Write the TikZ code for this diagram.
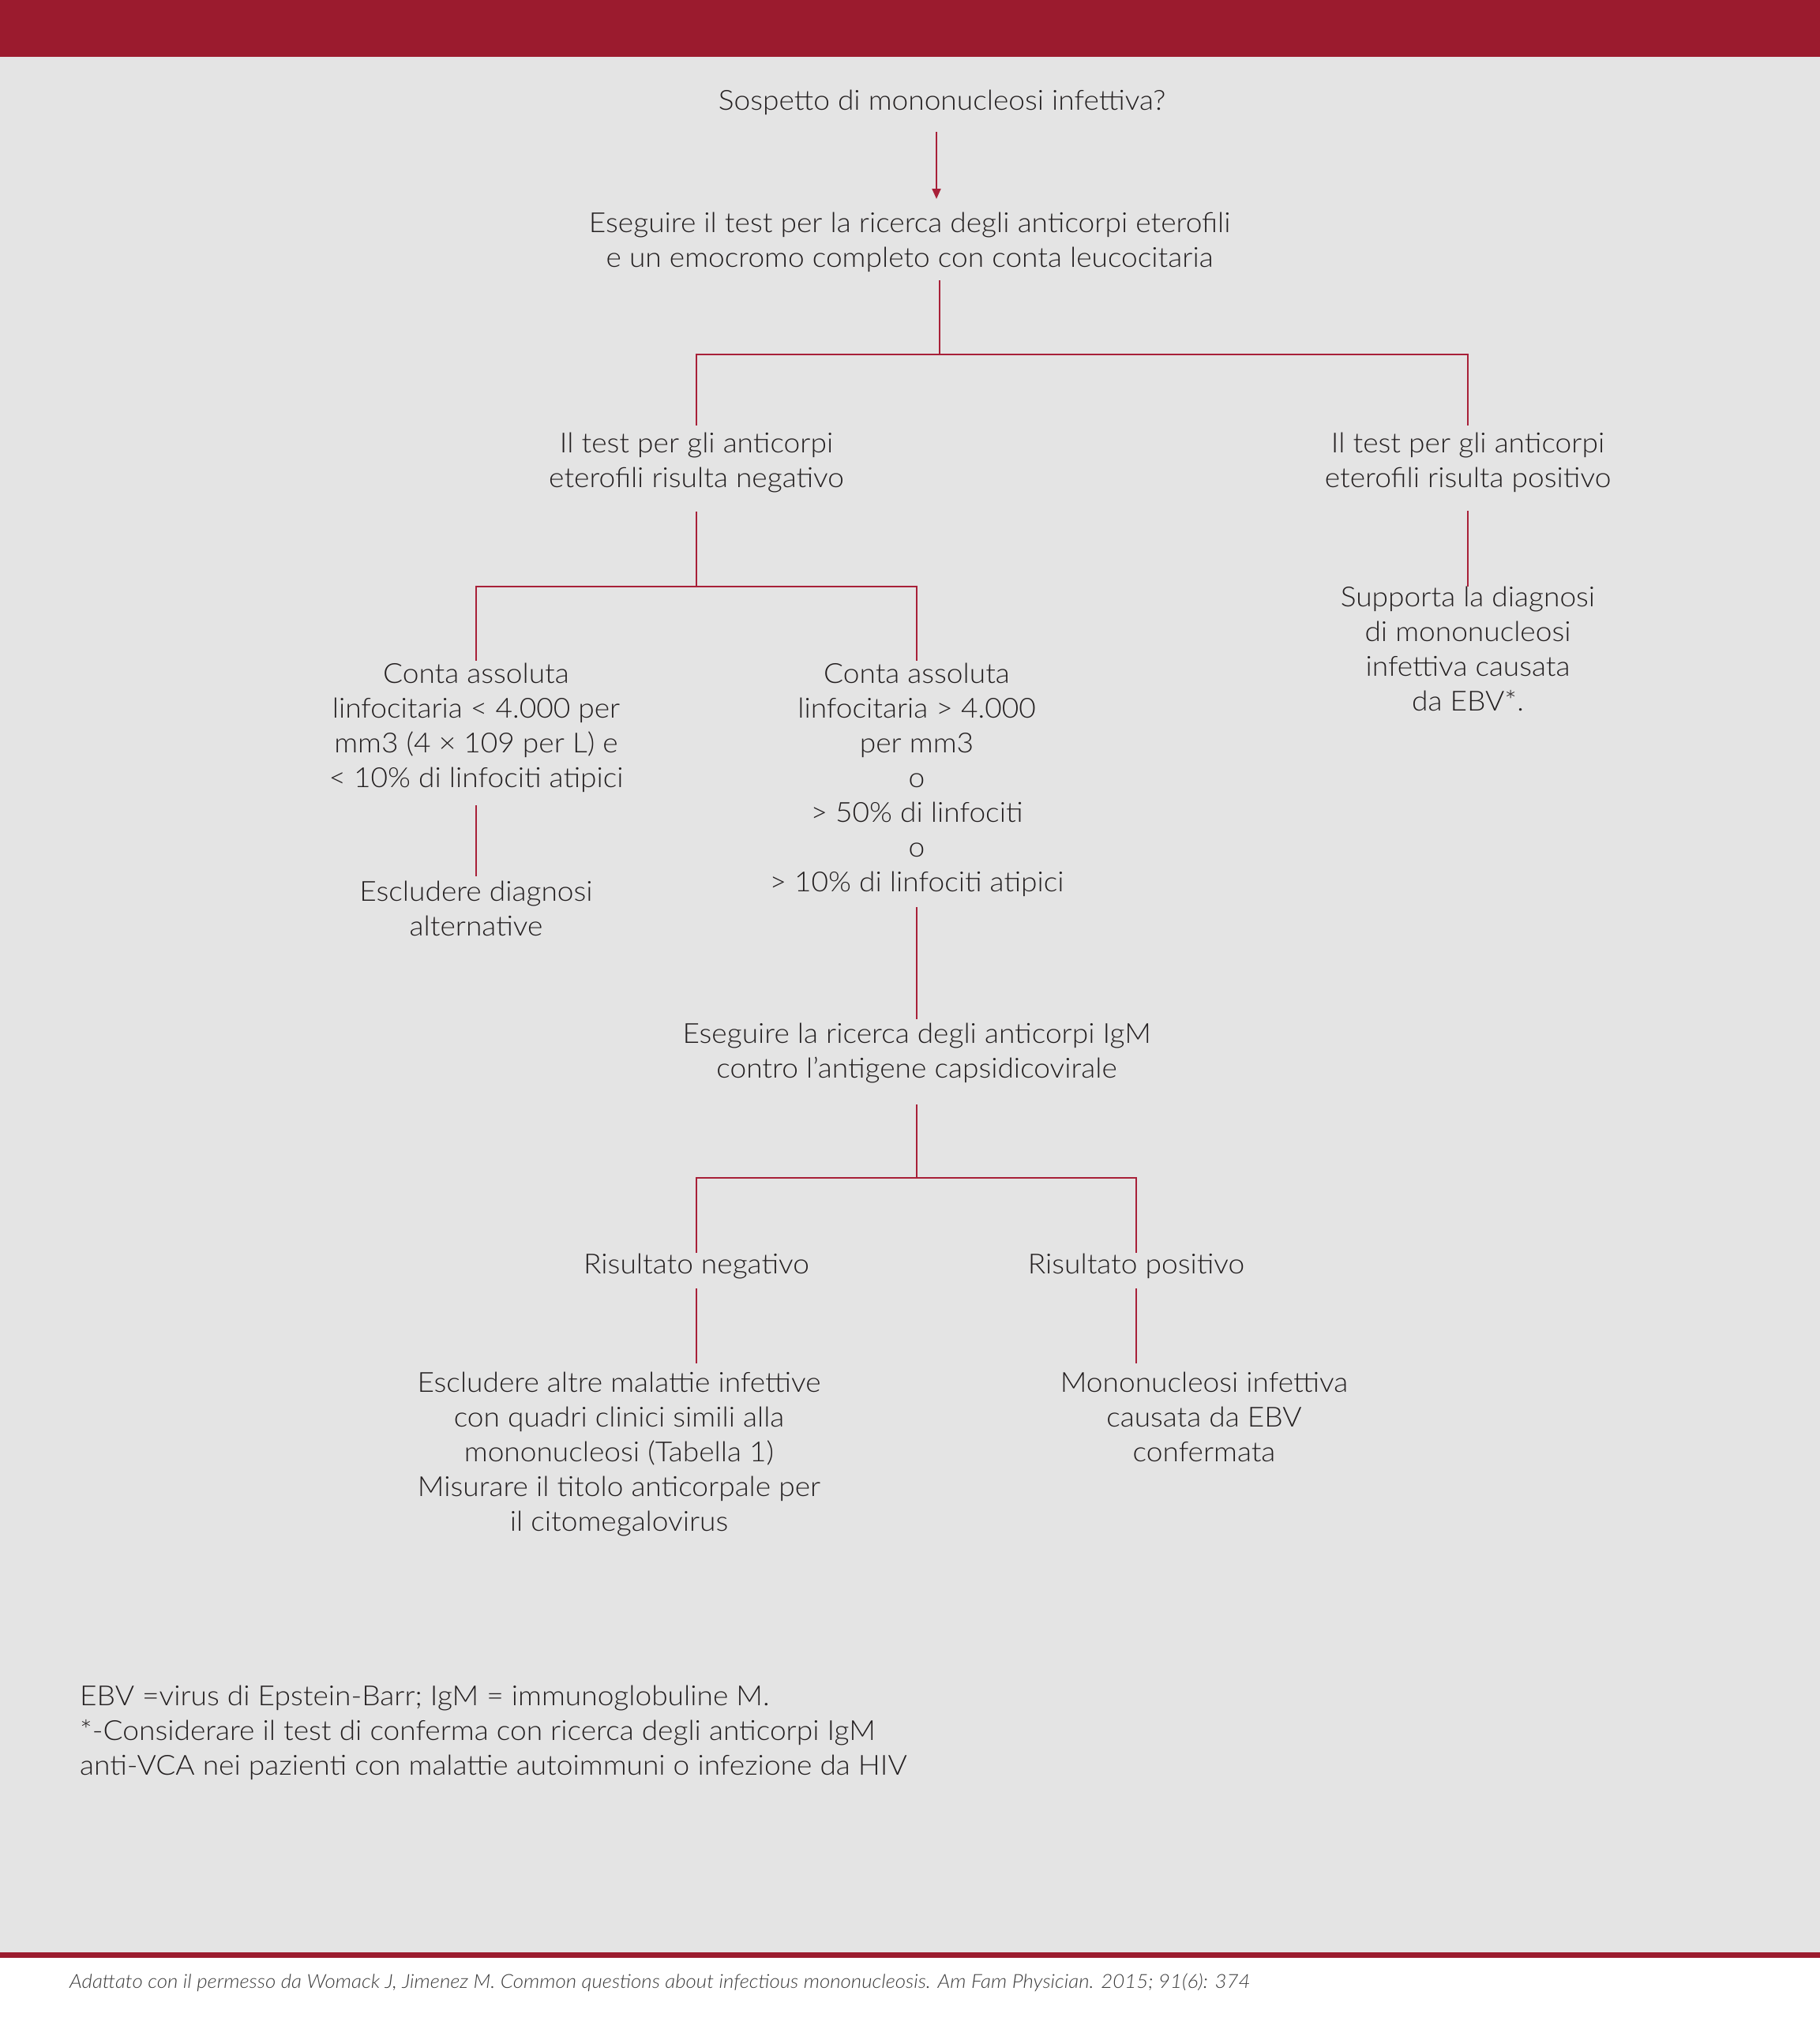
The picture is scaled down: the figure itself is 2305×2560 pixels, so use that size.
\documentclass[tikz,border=0pt]{standalone}
\usepackage{fontspec}
\IfFontExistsTF{Lato Light}{\setmainfont{Lato}[UprightFont=* Light, ItalicFont=* Light Italic, FakeStretch=1.06]}{\setmainfont{Lato}[FakeStretch=1.06]}
\usetikzlibrary{arrows.meta}
\definecolor{barred}{RGB}{155,27,46}
\definecolor{linered}{RGB}{168,32,56}
\definecolor{bggray}{RGB}{228,228,228}
\definecolor{txtcol}{RGB}{35,31,32}
\definecolor{footcol}{RGB}{60,60,60}
\tikzset{
  txt/.style={font=\fontsize{35}{44}\selectfont, text=txtcol, align=center, inner sep=0pt, anchor=north},
  conn/.style={draw=linered, line width=2pt},
}
\begin{document}
\begin{tikzpicture}[x=1pt,y=-1pt]
\useasboundingbox (0,0) rectangle (2305,2560);
\fill[white] (0,0) rectangle (2305,2560);
\fill[bggray] (0,72) rectangle (2305,2473);
\fill[barred] (0,0) rectangle (2305,72);
\fill[barred] (0,2473) rectangle (2305,2480);

\node[txt] (n1) at (1193,114) {Sospetto di mononucleosi infettiva?};
\node[txt] (n2) at (1152,269) {Eseguire il test per la ricerca degli anticorpi eterofili\\e un emocromo completo con conta leucocitaria};
\node[txt] (n3a) at (882,548) {Il test per gli anticorpi\\eterofili risulta negativo};
\node[txt] (n3b) at (1859,548) {Il test per gli anticorpi\\eterofili risulta positivo};
\node[txt] (n4) at (1859,743) {Supporta la diagnosi\\di mononucleosi\\infettiva causata\\da EBV*.};
\node[txt] (n5a) at (603,840) {Conta assoluta\\linfocitaria < 4.000 per\\mm3 (4 × 109 per L) e\\< 10\% di linfociti atipici};
\node[txt] (n6a) at (603,1116) {Escludere diagnosi\\alternative};
\node[txt] (n5b) at (1161,840) {Conta assoluta\\linfocitaria > 4.000\\per mm3\\o\\> 50\% di linfociti\\o\\> 10\% di linfociti atipici};
\node[txt] (n7) at (1161,1296) {Eseguire la ricerca degli anticorpi IgM\\contro l’antigene capsidicovirale};
\node[txt] (n8a) at (882,1588) {Risultato negativo};
\node[txt] (n8b) at (1439,1588) {Risultato positivo};
\node[txt] (n9a) at (784,1738) {Escludere altre malattie infettive\\con quadri clinici simili alla\\mononucleosi (Tabella 1)\\Misurare il titolo anticorpale per\\il citomegalovirus};
\node[txt] (n9b) at (1525,1738) {Mononucleosi infettiva\\causata da EBV\\confermata};

\node[txt, align=left, anchor=north west] (fn) at (101,2135) {EBV =virus di Epstein-Barr; IgM = immunoglobuline M.\\*-Considerare il test di conferma con ricerca degli anticorpi IgM\\anti-VCA nei pazienti con malattie autoimmuni o infezione da HIV};
\node[font=\fontsize{24.4}{30}\selectfont\itshape, text=footcol, anchor=base west, inner sep=0pt] (src) at (88,2518) {Adattato con il permesso da Womack J, Jimenez M. Common questions about infectious mononucleosis. Am Fam Physician. 2015; 91(6): 374};

% connectors
\coordinate (a1) at (1186,0);
\draw[conn, -{Triangle[length=13pt,width=11pt]}, shorten <=21pt, shorten >=17pt] (n1.south -| a1) -- (n2.north -| a1);

\coordinate (j1) at (1190,449);
\draw[conn, shorten <=10pt] (n2.south -| j1) -- (j1);
\draw[conn, shorten >=9pt] (j1) -| (n3a.north);
\draw[conn, shorten >=9pt] (j1) -| (n3b.north);

\coordinate (j2) at (882,743);
\draw[conn, shorten <=24pt] (n3a.south) -- (j2);
\draw[conn, shorten >=3pt] (j2) -| (n5a.north);
\draw[conn, shorten >=3pt] (j2) -| (n5b.north);

\draw[conn, shorten <=23pt] (n3b.south) -- (n4.north);
\draw[conn, shorten <=16pt, shorten >=6pt] (n5a.south) -- (n6a.north);
\draw[conn, shorten <=13pt, shorten >=5pt] (n5b.south) -- (n7.north);

\coordinate (j3) at (1161,1492);
\draw[conn, shorten <=27pt] (n7.south) -- (j3);
\draw[conn, shorten >=1pt] (j3) -| (n8a.north);
\draw[conn, shorten >=1pt] (j3) -| (n8b.north);

\draw[conn, shorten <=12pt, shorten >=11pt] (n8a.south) -- (n8a.south |- n9a.north);
\draw[conn, shorten <=12pt, shorten >=11pt] (n8b.south) -- (n8b.south |- n9b.north);
\end{tikzpicture}
\end{document}
